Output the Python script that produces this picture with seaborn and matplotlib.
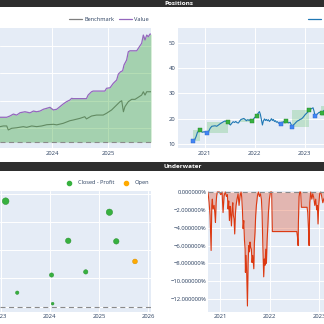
import matplotlib
matplotlib.use("Agg")
import numpy as np
import pandas as pd
import matplotlib.pyplot as plt
import matplotlib.dates as mdates
from matplotlib.lines import Line2D
from matplotlib.patches import Rectangle
from matplotlib.ticker import FuncFormatter
import seaborn as sns

# ---------------- portfolio value vs benchmark ----------------
value_dates = ["2022-12-20", "2023-01-25", "2023-03-10", "2023-03-31", "2023-04-22",
               "2023-05-14", "2023-06-05", "2023-07-07", "2023-08-09", "2023-08-31",
               "2023-09-21", "2023-10-13", "2023-11-04", "2023-11-26", "2023-12-17",
               "2024-01-08", "2024-01-30", "2024-02-20", "2024-03-12", "2024-04-03",
               "2024-04-25", "2024-05-06", "2024-05-16", "2024-08-11", "2024-08-22",
               "2024-09-13", "2024-09-24", "2024-12-09", "2024-12-20", "2025-01-12",
               "2025-02-02", "2025-02-24", "2025-03-07", "2025-03-22", "2025-04-04",
               "2025-04-13", "2025-04-30", "2025-05-11", "2025-05-22", "2025-07-05",
               "2025-07-22", "2025-08-06", "2025-08-17", "2025-08-28", "2025-09-08",
               "2025-09-19", "2025-09-29", "2025-10-06"]
value = [280, 280, 280, 289, 303, 296, 313, 320, 312, 325,
         320, 325, 338, 345, 352, 333, 338, 357, 376, 393,
         405, 417, 415, 415, 441, 465, 470, 470, 490, 494,
         526, 550, 593, 610, 617, 659, 695, 755, 762, 762,
         791, 816, 876, 840, 876, 864, 883, 883]

bench_dates = ["2022-12-20", "2023-01-25", "2023-02-16", "2023-03-10", "2023-03-20",
               "2023-04-11", "2023-05-14", "2023-06-26", "2023-07-18", "2023-08-20",
               "2023-09-21", "2023-10-24", "2023-11-26", "2024-01-08", "2024-01-30",
               "2024-03-12", "2024-04-25", "2024-05-16", "2024-06-29", "2024-07-31",
               "2024-08-11", "2024-09-13", "2024-10-16", "2024-11-28", "2024-12-20",
               "2025-01-22", "2025-02-24", "2025-03-18", "2025-03-29", "2025-04-09",
               "2025-04-19", "2025-05-11", "2025-06-02", "2025-06-24", "2025-07-15",
               "2025-08-06", "2025-08-17", "2025-08-28", "2025-09-08", "2025-10-06"]
bench = [214, 212, 217, 217, 188, 200, 204, 212, 207, 217,
         212, 217, 226, 229, 225, 236, 255, 260, 272, 284,
         268, 289, 296, 296, 309, 333, 369, 393, 400, 320,
         357, 393, 410, 410, 425, 441, 465, 441, 465, 465]
init_value = 100

# ---------------- close price and positions ----------------
price_start = "2020-10-10"
price_day = [0, 10, 19, 29, 39, 49, 58, 68, 78, 88,
             102, 112, 122, 134, 146, 158, 170, 183, 195, 207,
             219, 231, 241, 251, 260, 270, 280, 290, 300, 309,
             319, 329, 338, 348, 358, 368, 377, 387, 397, 407,
             416, 426, 436, 446, 455, 463, 472, 482, 489, 497,
             504, 511, 519, 526, 533, 540, 548, 555, 562, 570,
             577, 584, 592, 599, 606, 614, 621, 631, 640, 650,
             657, 667, 677, 687, 696, 706, 713, 721, 730, 740,
             750, 760, 769, 779, 789, 799, 808, 818, 828, 838,
             847, 857, 867, 874, 881, 889, 898, 908, 918, 928,
             937, 947, 954]
price = [11.3, 11.8, 12.9, 14.6, 15.1, 15.4, 14.9, 14.6, 14.9, 14.5,
         14.3, 15.1, 16.2, 17.0, 17.1, 17.2, 17.0, 17.5, 18.0, 18.4,
         18.8, 19.1, 18.8, 18.5, 18.0, 17.5, 18.2, 18.8, 18.5, 18.9,
         18.4, 18.3, 19.1, 19.7, 19.9, 20.1, 19.7, 19.2, 19.6, 19.3,
         19.7, 19.1, 19.6, 20.4, 20.9, 21.2, 22.1, 22.8, 21.7, 19.5,
         17.5, 19.1, 19.9, 19.3, 19.7, 19.2, 19.6, 18.9, 19.3, 20.0,
         19.3, 19.7, 18.9, 19.2, 18.6, 18.8, 18.3, 18.0, 17.8, 18.3,
         18.8, 18.8, 19.2, 18.8, 18.3, 18.6, 17.8, 16.8, 17.5, 18.0,
         18.6, 19.1, 19.3, 19.7, 19.9, 20.4, 21.0, 21.7, 22.2, 22.8,
         23.4, 23.8, 24.1, 24.3, 23.0, 21.0, 21.4, 22.0, 22.5, 22.4,
         22.1, 22.9, 23.3]
entry_day = [0, 102, 640, 721, 889]
entry_price = [11.3, 14.3, 17.8, 16.8, 21.0]
exit_day = [49, 251, 426, 463, 677, 847, 937]
exit_price = [15.4, 18.5, 19.1, 21.2, 19.2, 23.4, 22.1]
# profitable trade spans: start day, end day, low price, high price
box_start = [0, 102, 343, 640, 721, 935]
box_end = [49, 251, 426, 677, 847, 1000]
box_low = [11.3, 14.3, 18.5, 17.8, 16.8, 21.2]
box_high = [15.4, 18.5, 19.9, 19.2, 23.4, 25.0]

# ---------------- trade returns ----------------
pnl_dates = ["2023-02-06", "2023-05-03", "2024-01-13", "2024-01-21", "2024-05-16",
             "2024-09-23", "2025-03-18", "2025-05-08", "2025-09-24"]
pnl_ret = [37.3, 4.95, 11.2, 1.06, 23.3, 12.3, 33.4, 23.1, 16.0]
pnl_status = ["Closed - Profit"] * 8 + ["Open"]

# ---------------- drawdown ----------------
dd_start = "2020-10-04"
dd_day = [0, 8, 15, 23, 28, 32, 37, 45, 50, 55, 60, 64, 69, 84, 94, 104, 111, 119, 128, 136,
          143, 148, 153, 158, 163, 168, 173, 178, 183, 187, 192, 197, 202, 207, 214, 222, 229,
          237, 244, 249, 254, 259, 264, 269, 274, 276, 281, 286, 291, 296, 301, 306, 310, 315,
          320, 325, 330, 338, 342, 347, 352, 357, 365, 372, 379, 387, 394, 399, 404, 411, 416,
          421, 426, 431, 436, 441, 446, 453, 461, 470, 475, 655, 660, 665, 667, 672, 677, 684,
          689, 731, 736, 741, 746, 751, 758, 766, 773, 780, 788, 795, 802, 807, 812, 817, 824,
          832, 839, 847, 854, 861]
dd_pct = [0, -1.15, -2.6, -6.55, -1.5, -0.8, -1.9, -1.5, -2.3, -3.4, -1.2, -0.4, 0, 0, -0.3,
          0, -2.3, -0.4, 0, -0.5, -0.3, -1.9, -1.0, -3.2, -1.6, -2.5, -3.8, -2.0, -1.2, -2.6,
          -3.0, -4.7, -2.5, -1.5, -0.8, -0.2, -1.5, -0.4, 0, -0.6, -2.0, -4.1, -3.2, -5.4,
          -6.4, -9.0, -7.1, -9.35, -12.77, -7.9, -6.0, -6.7, -5.6, -6.2, -6.4, -7.9, -7.1,
          -8.6, -5.8, -4.5, -2.6, -1.5, -0.4, 0, -0.5, -0.2, -0.8, -2.3, -5.6, -9.5, -7.5,
          -8.2, -6.4, -8.0, -5.5, -4.0, -2.3, -0.8, 0, 0, -4.43, -4.43, -5.0, -6.0, -3.5,
          -0.5, 0, 0, -1.71, -1.71, -2.3, -4.0, -6.0, -1.2, 0, -0.8, -0.2, -0.6, -1.5, -0.8,
          -2.0, -1.5, -3.58, -1.5, -0.2, 0, -0.5, -1.2, -0.8, -0.6]

# ---------------- style ----------------
W = H = 324
BG = "#E5ECF6"
TXT = "#2a3f5f"
FS = 4.2
GREEN = "#37B13F"
ORANGE = "#FFAA00"
BLUE = "#4285F4"
RED = "#dc3912"
PURPLE = "#9467bd"
GRAY = "#7f7f7f"
DASH = (0, (4.5, 3.2))

sns.set_theme(style="darkgrid", rc={
    "axes.facecolor": BG, "grid.color": "white", "grid.linewidth": 0.7,
    "axes.linewidth": 0, "xtick.color": TXT, "ytick.color": TXT,
    "xtick.labelsize": FS, "ytick.labelsize": FS,
    "xtick.major.size": 0, "ytick.major.size": 0,
    "xtick.major.pad": 1.8, "ytick.major.pad": 2.0,
})
plt.rcParams["font.family"] = ["Open Sans", "DejaVu Sans"]

fig = plt.figure(figsize=(W / 100, H / 100), dpi=100, facecolor="white")


def rect(x0, y0, x1, y1):
    return [x0 / W, 1 - y1 / H, (x1 - x0) / W, (y1 - y0) / H]


def year_axis(ax):
    ax.xaxis.set_major_locator(mdates.YearLocator())
    ax.xaxis.set_major_formatter(mdates.DateFormatter("%Y"))
    ax.set_xlabel("")
    ax.set_ylabel("")


# title bars
for y0, y1, title, xc in [(0, 7.3, "Positions", 179), (161.7, 170.7, "Underwater", 182.7)]:
    fig.add_artist(Rectangle((0, 1 - y1 / H), 1, (y1 - y0) / H, transform=fig.transFigure,
                             facecolor="#2e2e2e", edgecolor="none"))
    fig.text(xc / W, 1 - (y0 + y1) / 2 / H, title, ha="center", va="center",
             color="white", fontsize=4.6, fontweight="bold")

# ---- value vs benchmark ----
ax1 = fig.add_axes(rect(0, 28.3, 151, 148.3))
df_val = pd.DataFrame({"date": pd.to_datetime(value_dates), "value": value})
df_bm = pd.DataFrame({"date": pd.to_datetime(bench_dates), "value": bench})
sns.lineplot(data=df_bm, x="date", y="value", color=GRAY, lw=0.8, ax=ax1, zorder=2)
ax1.fill_between(df_val["date"], df_val["value"], init_value, color="#2ca02c",
                 alpha=0.35, lw=0, zorder=2.5)
sns.lineplot(data=df_val, x="date", y="value", color=PURPLE, lw=0.9, ax=ax1, zorder=3)
ax1.axhline(init_value, color="#8a8a8a", lw=0.8, ls=DASH, zorder=3)
ax1.set_xlim(pd.Timestamp("2023-01-25"), pd.Timestamp("2025-10-06"))
ax1.set_ylim(55, 925)
ax1.set_yticks([200, 400, 600, 800])
ax1.tick_params(axis="y", labelleft=False)
year_axis(ax1)
leg1 = ax1.legend(handles=[Line2D([], [], color=GRAY, lw=0.9), Line2D([], [], color=PURPLE, lw=0.9)],
                  labels=["Benchmark", "Value"], loc="center left",
                  bbox_to_anchor=(69 / W, 1 - 19.5 / H), bbox_transform=fig.transFigure,
                  ncol=2, frameon=False, fontsize=4.1, handlelength=2.3, handletextpad=0.35,
                  columnspacing=0.9, borderpad=0, borderaxespad=0)
for t in leg1.get_texts():
    t.set_color(TXT)

# ---- positions ----
ax2 = fig.add_axes(rect(178, 28.3, 324, 148.3))
p0 = pd.Timestamp(price_start)
for s, e, lo, hi in zip(box_start, box_end, box_low, box_high):
    ax2.fill_between([p0 + pd.Timedelta(days=s), p0 + pd.Timedelta(days=e)], lo, hi,
                     color=GREEN, alpha=0.22, lw=0, zorder=1.5)
df_px = pd.DataFrame({"date": p0 + pd.to_timedelta(price_day, unit="D"), "price": price})
sns.lineplot(data=df_px, x="date", y="price", color="#1f77b4", lw=0.8, ax=ax2, zorder=3)
df_en = pd.DataFrame({"date": p0 + pd.to_timedelta(entry_day, unit="D"), "price": entry_price})
df_ex = pd.DataFrame({"date": p0 + pd.to_timedelta(exit_day, unit="D"), "price": exit_price})
sns.scatterplot(data=df_en, x="date", y="price", marker="s", s=7, color=BLUE,
                edgecolor="#2a64c8", linewidth=0.3, ax=ax2, zorder=4)
sns.scatterplot(data=df_ex, x="date", y="price", marker="s", s=7, color=GREEN,
                edgecolor="#26862c", linewidth=0.3, ax=ax2, zorder=4)
ax2.set_xlim(pd.Timestamp("2020-06-19"), pd.Timestamp("2023-05-22"))
ax2.set_ylim(8.3, 55.7)
ax2.set_yticks([10, 20, 30, 40, 50])
year_axis(ax2)
leg2 = ax2.legend(handles=[Line2D([], [], color="#1f77b4", lw=0.9)], labels=["Close"],
                  loc="center left", bbox_to_anchor=(308 / W, 1 - 19.5 / H),
                  bbox_transform=fig.transFigure, frameon=False, fontsize=4.1,
                  handlelength=2.3, handletextpad=1.2, borderpad=0, borderaxespad=0)
for t in leg2.get_texts():
    t.set_color(TXT)

# ---- trade returns ----
ax3 = fig.add_axes(rect(0, 191, 151, 311.5))
df_pnl = pd.DataFrame({"date": pd.to_datetime(pnl_dates), "ret": pnl_ret, "status": pnl_status})
ax3.axhline(0, color="#8a8a8a", lw=0.8, ls=DASH, zorder=1.5)
edge = {"Closed - Profit": "#2b9131", "Open": "#d99000"}
sns.scatterplot(data=df_pnl, x="date", y="ret", hue="status", size="ret", sizes=(4, 23),
                palette={"Closed - Profit": GREEN, "Open": ORANGE},
                edgecolor=[edge[s] for s in pnl_status], linewidth=0.35,
                legend=False, ax=ax3, zorder=3)
ax3.set_xlim(pd.Timestamp("2022-12-26"), pd.Timestamp("2026-01-21"))
ax3.set_ylim(-1.7, 40.9)
ax3.set_yticks([0, 10, 20, 30, 40])
ax3.tick_params(axis="y", labelleft=False)
year_axis(ax3)
leg3 = ax3.legend(handles=[Line2D([], [], ls="none", marker="o", ms=3, color=GREEN),
                           Line2D([], [], ls="none", marker="o", ms=3, color=ORANGE)],
                  labels=["Closed - Profit", "Open"], loc="center left",
                  bbox_to_anchor=(66.2 / W, 1 - 183 / H), bbox_transform=fig.transFigure,
                  ncol=2, frameon=False, fontsize=4.1, handlelength=1.0, handletextpad=1.05,
                  columnspacing=1.6, borderpad=0, borderaxespad=0)
for t in leg3.get_texts():
    t.set_color(TXT)

# ---- underwater ----
ax4 = fig.add_axes(rect(208, 190.5, 324, 312))
df_dd = pd.DataFrame({"date": pd.Timestamp(dd_start) + pd.to_timedelta(dd_day, unit="D"),
                      "dd": np.array(dd_pct) / 100})
ax4.fill_between(df_dd["date"], df_dd["dd"], 0, color=RED, alpha=0.3, lw=0, zorder=2)
sns.lineplot(data=df_dd, x="date", y="dd", color=RED, lw=0.8, ax=ax4, zorder=3)
ax4.axhline(0, color="#8a8a8a", lw=0.8, ls=DASH, zorder=3.5)
ax4.set_xlim(pd.Timestamp(dd_start), pd.Timestamp("2023-02-07"))
ax4.set_ylim(-0.1344, 0.0017)
ax4.set_yticks(np.arange(-0.12, 0.001, 0.02))


def pct_fmt(v, _):
    if abs(v) < 1e-12:
        v = 0.0
    return f"{v * 100:.6f}%".replace("-", "\u2212")


ax4.yaxis.set_major_formatter(FuncFormatter(pct_fmt))
ax4.tick_params(axis="y", pad=1.0)
year_axis(ax4)

fig.savefig("out.png", dpi=100, facecolor="white")
